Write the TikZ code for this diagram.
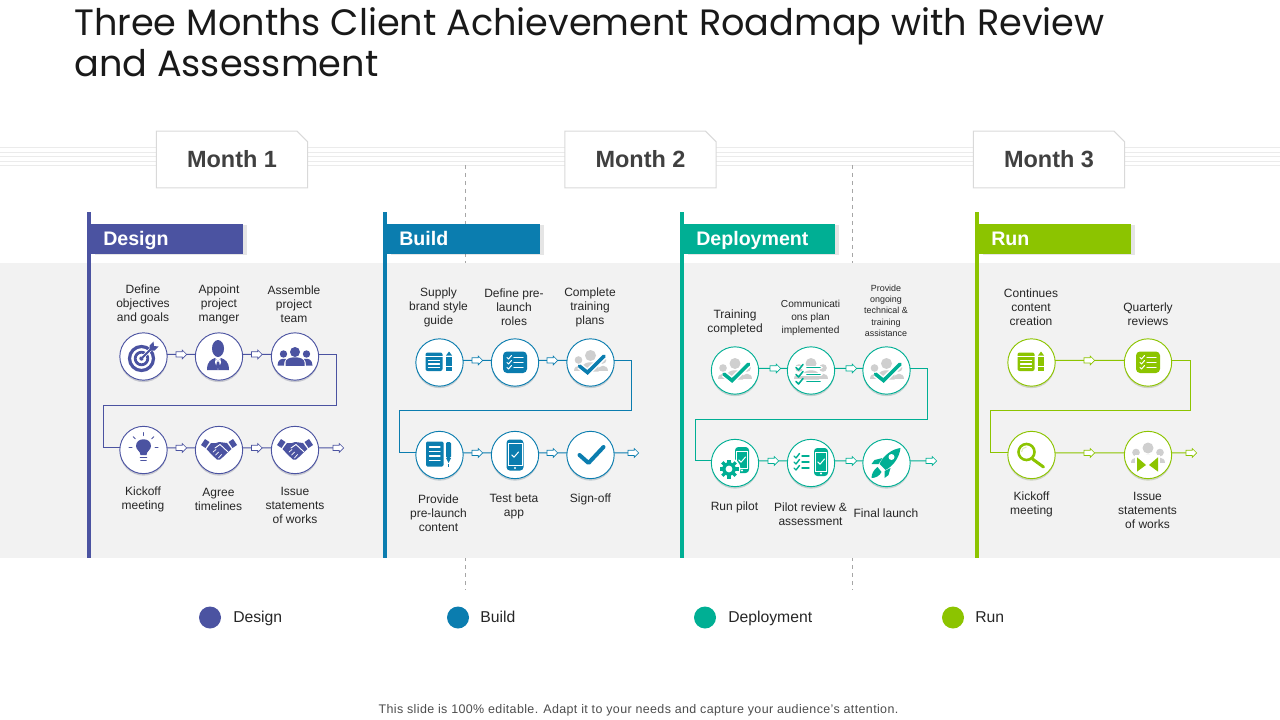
\documentclass[tikz,border=0pt]{standalone}
\usepackage{fontspec}
\setmainfont{Liberation Sans}
\newfontfamily\titlefont{Poppins}
\usetikzlibrary{shapes.arrows,shapes.misc,shadows}
\definecolor{des}{HTML}{4B53A1}
\definecolor{bld}{HTML}{0B7DAF}
\definecolor{dep}{HTML}{00AF94}
\definecolor{rnc}{HTML}{8CC400}
\definecolor{band}{HTML}{F2F2F2}
\definecolor{grp}{HTML}{CFCFCF}
\definecolor{txt}{HTML}{262626}
\tikzset{
  stage/.style={circle,draw=#1,fill=white,line width=.7pt,minimum size=35.5pt,inner sep=0pt,outer sep=0pt,
     general shadow={shadow xshift=0pt,shadow yshift=-1.5pt,fill=#1!45!black,opacity=.2}},
  hollow/.style={single arrow,draw=#1,fill=white,line width=.5pt,minimum height=8pt,
     single arrow head extend=1.3pt,single arrow head indent=0pt,inner sep=1.7pt,outer sep=0pt},
  con/.style={draw=#1,line width=.7pt},
  lab/.style={align=center,text=txt,inner sep=0pt,font=\fontsize{9}{10.5}\selectfont},
  labm/.style={align=center,text=txt,inner sep=0pt,font=\fontsize{7.6}{9.8}\selectfont},
  labs/.style={align=center,text=txt,inner sep=0pt,font=\fontsize{6.7}{8.5}\selectfont},
  monthbox/.style={chamfered rectangle,chamfered rectangle corners=north east,chamfered rectangle xsep=4pt,
     chamfered rectangle ysep=4pt,draw=black!15,fill=white,line width=.75pt,minimum width=113.5pt,minimum height=42.5pt,
     inner sep=0pt,text=black!75,font=\fontsize{17.6}{20}\selectfont\bfseries},
  hdr/.style={fill=#1,text=white,font=\fontsize{14.7}{17}\selectfont\bfseries,anchor=west,minimum height=22.5pt,inner ysep=0pt,
     inner xsep=9pt,align=left,text height=12.5pt,text depth=2pt,
     general shadow={shadow xshift=2.5pt,shadow yshift=-1pt,fill=black,opacity=.1}},
  legdot/.style={circle,fill=#1,minimum size=16.5pt,inner sep=0pt},
  legtxt/.style={anchor=west,text=txt,inner sep=0pt,text height=9.4pt,text depth=1.8pt,font=\fontsize{11.8}{14}\selectfont},
  icl/.style={line width=#1*.75pt,draw=ic,line cap=round,line join=round},
  wl/.style={line width=#1*.75pt,draw=white,line cap=round,line join=round},
}
\newcommand\iconat[3]{\begin{scope}[shift={(#1.center)}]\colorlet{ic}{#2}#3\end{scope}}
\newcommand\icPeople[1]{%
  \fill[#1] (0,-7) circle (5.5) (-12,-2.5) circle (3.8) (12,-2.5) circle (3.8);
  \fill[#1] (-8,9) -- (-8,5) .. controls (-8,-2) and (8,-2) .. (8,5) -- (8,9) -- cycle;
  \fill[#1] (-17,8) .. controls (-17,1) and (-7,1) .. (-7,8) -- cycle;
  \fill[#1] (17,8) .. controls (17,1) and (7,1) .. (7,8) -- cycle;}
\newcommand\icTarget{%
  \draw[icl=3.2] (-2,2) circle (12);
  \draw[icl=2.8] (-2,2) circle (6.3);
  \fill[ic] (-2,2) circle (2.2);
  \draw[wl=3.5] (-1,1) -- (8,-8);
  \draw[icl=1.8] (-2,2) -- (9,-9);
  \fill[ic] (6,-6) -- (6,-11) -- (10,-15) -- (10.5,-10.5) -- (15,-10) -- (11,-6) -- cycle;}
\newcommand\icPerson{%
  \fill[ic] (-1,-8) ellipse (6 and 8.5);
  \fill[ic] (-12,13.5) .. controls (-12,5) and (-8,3) .. (-4,1.5) -- (-1,5) -- (2,1.5) .. controls (6,3) and (10,5) .. (10,13.5) -- cycle;
  \fill[white] (-3.4,2.5) -- (-1,5) -- (1.4,2.5) -- (2,6) -- (-1,13.5) -- (-4,6) -- cycle;
  \fill[ic] (-2,5) -- (0,5) -- (1,10) -- (-1,13) -- (-3,10) -- cycle;}
\newcommand\icGroup{%
  \fill[ic] (0,-4.5) circle (5) (-11.5,-2.5) circle (3.7) (11.5,-2.5) circle (3.7);
  \fill[ic] (-9.5,9.3) -- (-9.5,6) .. controls (-9.5,-1) and (9.5,-1) .. (9.5,6) -- (9.5,9.3) -- cycle;
  \fill[ic] (-17.5,9) .. controls (-17.5,3) and (-13,1.5) .. (-9,2.5) .. controls (-10.5,4) and (-11,6) .. (-11,9) -- cycle;
  \fill[ic] (17.5,9) .. controls (17.5,3) and (13,1.5) .. (9,2.5) .. controls (10.5,4) and (11,6) .. (11,9) -- cycle;}
\newcommand\icBulb{%
  \fill[ic] (-3,5) .. controls (-3,1) and (-7.5,0) .. (-7.5,-4) .. controls (-7.5,-13) and (7.5,-13) .. (7.5,-4) .. controls (7.5,0) and (3,1) .. (3,5) -- cycle;
  \draw[icl=1.7] (-3,7.5) -- (3,7.5) (-2.5,10.5) -- (2.5,10.5);
  \foreach \a in {180,225,270,315,0} \draw[icl=1] (\a-0:11.5) ++(0,-3) -- ++(\a:3);}
\newcommand\icShake{%
  \fill[ic] (-18,-5) -- (-14,-11) -- (-9.5,-8) -- (-13.5,-2) -- cycle;
  \fill[ic] (18,-5) -- (14,-11) -- (9.5,-8) -- (13.5,-2) -- cycle;
  \fill[ic] (-12.5,-1) -- (-8,-7) -- (-3,-7) -- (0,-8) -- (4,-7.5) -- (8,-7) -- (12.5,-1) -- (8,3) -- (4,7) -- (1,9.5) -- (-2,9.5) -- (-7,5) -- cycle;
  \draw[wl=.9] (-4,-2) -- (1,-5.5) -- (8.5,1.5);
  \draw[wl=.7] (-6,2) -- (-3,-0.5) (-3.5,5) -- (-.5,2) (-.5,8) -- (2.5,4.5);}
\newcommand\icBook{%
  \fill[ic,rounded corners=1.5] (-14,-10) rectangle (3,8.5);
  \draw[wl=1.2] (-14,-6) -- (3,-6);
  \draw[wl=1.1] (-11,-2) -- (0,-2) (-11,1.5) -- (0,1.5) (-11,5) -- (0,5);
  \fill[ic] (6.5,-7) -- (9.5,-11) -- (12.5,-7) -- cycle;
  \fill[ic] (6.5,-6) rectangle (12.5,3);
  \fill[ic] (6.5,4.5) rectangle (12.5,8.5);}
\newcommand\icList{%
  \fill[ic,rounded corners=3] (-12,-11) rectangle (12,10.5);
  \foreach \y in {-5,0,5}{
    \draw[wl=1] (-8,\y) -- (-6.5,\y+1.5) -- (-3.5,\y-2);
    \draw[wl=1.1] (-1,\y) -- (8,\y);}}
\newcommand\icCheckGroup{\icPeople{grp}%
  \draw[wl=6.5,line cap=butt] (-11,3.6) -- (-3,10) -- (13.5,-6.3);
  \draw[icl=3.6,line join=miter] (-11,3.6) -- (-3,10) -- (13.5,-6.3);}
\newcommand\icCheck{\draw[icl=4] (-11,0) -- (-2,8) -- (13,-8);}
\newcommand\icPad{%
  \fill[ic,rounded corners=1] (-13.5,-13.5) rectangle (4,11.5);
  \foreach \y in {-8,-3.5,1,5.5} \draw[wl=1.1] (-10,\y) -- (0.5,\y);
  \fill[ic,rounded corners=1] (6.5,-13) rectangle (11.5,3);
  \fill[ic] (6.5,3) -- (11.5,3) -- (9,8) -- cycle;
  \fill[ic] (8.5,9) rectangle (9.5,11.5);}
\newcommand\icPhone[4]{% cx cy halfw halfh
  \fill[ic,rounded corners=2.5] (#1-#3,#2-#4) rectangle (#1+#3,#2+#4);
  \draw[white,line width=.45pt] (#1-#3+1.7,#2-#4+4) rectangle (#1+#3-1.7,#2+#4-5);
  \draw[wl=1] (#1-3.2,#2) -- (#1-1,#2+2.2) -- (#1+3.5,#2-3);
  \fill[white] (#1,#2+#4-2.5) circle (1.1);}
\newcommand\icPeopleList{\icPeople{grp}%
  \foreach \y in {-3,4,11}{
    \draw[wl=3.6] (-16,\y) -- (10,\y);
    \draw[icl=1.6] (-15,\y) -- (-12.5,\y+2.5) -- (-8,\y-3);
    \draw[icl=1.8] (-4,\y) -- (9,\y);}}
\newcommand\icGearPhone{%
  \icPhone{7}{-3}{7}{13}
  \begin{scope}[shift={(-6,6)}]
    \fill[white] (0,0) circle (11.5);
    \foreach \a in {0,45,...,315} \draw[ic,line width=2.4pt] (\a:4) -- (\a:9.5);
    \fill[ic] (0,0) circle (6.8);
    \fill[white] (0,0) circle (3.4);
  \end{scope}}
\newcommand\icListPhone{%
  \icPhone{10}{-1}{7}{14}
  \foreach \y in {-7,-1,5}{
    \draw[icl=1.4] (-17,\y) -- (-15,\y+2) -- (-11.5,\y-2.5);
    \draw[icl=1.4] (-9,\y) -- (-2,\y);}}
\newcommand\icRocket{%
  \fill[ic] (14,-15) .. controls (6,-14) and (-3,-8) .. (-7,1) -- (-1,7) .. controls (7,3) and (13,-6) .. (14,-15) -- cycle;
  \fill[ic] (-4,-5) -- (-12,-3) -- (-15,1) -- (-8,1) -- cycle;
  \fill[ic] (4,5) -- (2,12) -- (-2,15) -- (-2,8) -- cycle;
  \fill[ic] (-9,4) .. controls (-13,7) and (-15,11) .. (-15,15) .. controls (-11,15) and (-7,13) .. (-5,9) -- cycle;
  \fill[white] (5,-6) circle (3);}
\newcommand\icLens{%
  \draw[icl=2.6] (-5,-3) circle (8);
  \draw[white!70!ic,line width=.8pt] (-10,-3) arc (180:270:5);
  \draw[icl=3] (1,4) -- (12,12);}
\newcommand\icPeopleBow{\icPeople{grp}%
  \fill[white] (-13,0) rectangle (12,18);
  \fill[ic] (-11,2.3) -- (-11,16.6) -- (-2,10) -- cycle;
  \fill[ic] (10,2.3) -- (10,16.6) -- (1,10) -- cycle;}
\begin{document}
\begin{tikzpicture}[x=.75pt,y=-.75pt]
\useasboundingbox (0,0) rectangle (1280,720);
% stripes and dashes
\foreach \y in {147.5,152,156.5,161,165} \draw[black!8,line width=.7pt] (0,\y) -- (1280,\y);
\coordinate (da) at (465,165); \coordinate (db) at (465,590);
\coordinate (dc) at (852.5,165); \coordinate (dd) at (852.5,590);
\draw[black!35,dashed,line width=.7pt] (da) -- (db);
\draw[black!35,dashed,line width=.7pt] (dc) -- (dd);
\fill[band] (0,263) rectangle (1280,558);
% title
\node[anchor=north west,inner sep=0pt,align=left,text=black!90,font=\titlefont\fontsize{27.5}{30.7}\selectfont] (title) at (74,7) {Three Months Client Achievement Roadmap with Review\\and Assessment};
% months
\node[monthbox] (m1) at (232,159.5) {Month 1};
\node[monthbox] (m2) at (640.5,159.5) {Month 2};
\node[monthbox] (m3) at (1049,159.5) {Month 3};
% bars and headers
\fill[des] (87,212) rectangle (91,558);
\fill[bld] (383,212) rectangle (387,558);
\fill[dep] (680,212) rectangle (684,558);
\fill[rnc] (975,212) rectangle (979,558);
\node[hdr=des,text width=96pt] (h1) at (91,239) {Design};
\node[hdr=bld,text width=96.7pt] (h2) at (387,239) {Build};
\node[hdr=dep,text width=95.3pt] (h3) at (684,239) {Deployment};
\node[hdr=rnc,text width=96pt] (h4) at (979,239) {Run};
% Design nodes
\node[stage=des] (d1) at (143.5,356.5) {};
\node[stage=des] (d2) at (219,356.5) {};
\node[stage=des] (d3) at (295,356.5) {};
\node[stage=des] (d4) at (143.5,450) {};
\node[stage=des] (d5) at (219,450) {};
\node[stage=des] (d6) at (295,450) {};
\node[hollow=des] (da1) at (180,354.4) {};
\node[hollow=des] (da2) at (255.5,354.4) {};
\node[hollow=des] (da3) at (180,447.9) {};
\node[hollow=des] (da4) at (255.5,447.9) {};
\node[hollow=des] (da5) at (337,447.9) {};
\coordinate (de1) at (336.7,405); \coordinate (de2) at (103,405);
\draw[con=des] (d1.5) -- (da1.tail) (da1.tip) -- (d2.175) (d2.5) -- (da2.tail) (da2.tip) -- (d3.175);
\draw[con=des] (d3.5) -| (de1) -- (de2) |- (d4.175);
\draw[con=des] (d4.5) -- (da3.tail) (da3.tip) -- (d5.175) (d5.5) -- (da4.tail) (da4.tip) -- (d6.175) (d6.5) -- (da5.tail);
\iconat{d1}{des}{\icTarget}
\iconat{d2}{des}{\icPerson}
\iconat{d3}{des}{\icGroup}
\iconat{d4}{des}{\icBulb}
\iconat{d5}{des}{\icShake}
\iconat{d6}{des}{\icShake}
\node[lab] (dl1) at (143,304.5) {Define\\objectives\\and goals};
\node[lab] (dl2) at (219,304.5) {Appoint\\project\\manger};
\node[lab] (dl3) at (294,304.5) {Assemble\\project\\team};
\node[lab] (dl4) at (143,499.5) {Kickoff\\meeting};
\node[lab] (dl5) at (218.5,499) {Agree\\timelines};
\node[lab] (dl6) at (295,505) {Issue\\statements\\of works};
% Build nodes
\node[stage=bld] (b1) at (439.5,362.5) {};
\node[stage=bld] (b2) at (515,362.5) {};
\node[stage=bld] (b3) at (590.5,362.5) {};
\node[stage=bld] (b4) at (439.5,455) {};
\node[stage=bld] (b5) at (515,455) {};
\node[stage=bld] (b6) at (590.5,455) {};
\node[hollow=bld] (ba1) at (476,360.4) {};
\node[hollow=bld] (ba2) at (551,360.4) {};
\node[hollow=bld] (ba3) at (476,452.9) {};
\node[hollow=bld] (ba4) at (551,452.9) {};
\node[hollow=bld] (ba5) at (632,452.9) {};
\coordinate (be1) at (631.7,410); \coordinate (be2) at (399,410);
\draw[con=bld] (b1.5) -- (ba1.tail) (ba1.tip) -- (b2.175) (b2.5) -- (ba2.tail) (ba2.tip) -- (b3.175);
\draw[con=bld] (b3.5) -| (be1) -- (be2) |- (b4.175);
\draw[con=bld] (b4.5) -- (ba3.tail) (ba3.tip) -- (b5.175) (b5.5) -- (ba4.tail) (ba4.tip) -- (b6.175) (b6.5) -- (ba5.tail);
\iconat{b1}{bld}{\icBook}
\iconat{b2}{bld}{\icList}
\iconat{b3}{bld}{\icCheckGroup}
\iconat{b4}{bld}{\icPad}
\iconat{b5}{bld}{\icPhone{0}{0}{8.5}{15.5}}
\iconat{b6}{bld}{\icCheck}
\node[lab] (bl1) at (438.5,307.5) {Supply\\brand style\\guide};
\node[lab] (bl2) at (514,307) {Define pre-\\launch\\roles};
\node[lab] (bl3) at (590,307) {Complete\\training\\plans};
\node[lab] (bl4) at (438.5,513) {Provide\\pre-launch\\content};
\node[lab] (bl5) at (514,506) {Test beta\\app};
\node[lab] (bl6) at (590.5,499.5) {Sign-off};
% Deployment nodes
\node[stage=dep] (p1) at (735,370.5) {};
\node[stage=dep] (p2) at (811,370.5) {};
\node[stage=dep] (p3) at (886.5,370.5) {};
\node[stage=dep] (p4) at (735,463) {};
\node[stage=dep] (p5) at (811,463) {};
\node[stage=dep] (p6) at (886.5,463) {};
\node[hollow=dep] (pa1) at (774,368.4) {};
\node[hollow=dep] (pa2) at (850,368.4) {};
\node[hollow=dep] (pa3) at (772,460.9) {};
\node[hollow=dep] (pa4) at (850,460.9) {};
\node[hollow=dep] (pa5) at (930,460.9) {};
\coordinate (pe1) at (927.7,419); \coordinate (pe2) at (695,419);
\draw[con=dep] (p1.5) -- (pa1.tail) (pa1.tip) -- (p2.175) (p2.5) -- (pa2.tail) (pa2.tip) -- (p3.175);
\draw[con=dep] (p3.5) -| (pe1) -- (pe2) |- (p4.175);
\draw[con=dep] (p4.5) -- (pa3.tail) (pa3.tip) -- (p5.175) (p5.5) -- (pa4.tail) (pa4.tip) -- (p6.175) (p6.5) -- (pa5.tail);
\iconat{p1}{dep}{\icCheckGroup}
\iconat{p2}{dep}{\icPeopleList}
\iconat{p3}{dep}{\icCheckGroup}
\iconat{p4}{dep}{\icGearPhone}
\iconat{p5}{dep}{\icListPhone}
\iconat{p6}{dep}{\icRocket}
\node[lab] (pl1) at (735,322) {Training\\completed};
\node[labm] (pl2) at (810.5,317.5) {Communicati\\ons plan\\implemented};
\node[labs] (pl3) at (886,310.5) {Provide\\ongoing\\technical \&\\training\\assistance};
\node[lab] (pl4) at (734.5,507) {Run pilot};
\node[lab] (pl5) at (810.5,514) {Pilot review \&\\assessment};
\node[lab] (pl6) at (886,513.5) {Final launch};
% Run nodes
\node[stage=rnc] (r1) at (1031.5,362.5) {};
\node[stage=rnc] (r2) at (1148,362.5) {};
\node[stage=rnc] (r3) at (1031.5,455) {};
\node[stage=rnc] (r4) at (1148,455) {};
\node[hollow=rnc] (ra1) at (1088,360.4) {};
\node[hollow=rnc] (ra2) at (1088,452.9) {};
\node[hollow=rnc] (ra3) at (1190,452.9) {};
\coordinate (re1) at (1190,410); \coordinate (re2) at (990,410);
\draw[con=rnc] (r1.5) -- (ra1.tail) (ra1.tip) -- (r2.175);
\draw[con=rnc] (r2.5) -| (re1) -- (re2) |- (r3.175);
\draw[con=rnc] (r3.5) -- (ra2.tail) (ra2.tip) -- (r4.175) (r4.5) -- (ra3.tail);
\iconat{r1}{rnc}{\icBook}
\iconat{r2}{rnc}{\icList}
\iconat{r3}{rnc}{\icLens}
\iconat{r4}{rnc}{\icPeopleBow}
\node[lab] (rl1) at (1031,307) {Continues\\content\\creation};
\node[lab] (rl2) at (1148,314) {Quarterly\\reviews};
\node[lab] (rl3) at (1031.5,504) {Kickoff\\meeting};
\node[lab] (rl4) at (1147.5,510.5) {Issue\\statements\\of works};
% legend
\node[legdot=des] (g1) at (210,617.5) {};
\node[legdot=bld] (g2) at (458,617.5) {};
\node[legdot=dep] (g3) at (705,617.5) {};
\node[legdot=rnc] (g4) at (953,617.5) {};
\node[legtxt] (gt1) at (233,617.5) {Design};
\node[legtxt] (gt2) at (480,617.5) {Build};
\node[legtxt] (gt3) at (728,617.5) {Deployment};
\node[legtxt] (gt4) at (975,617.5) {Run};
% footer
\node[inner sep=0pt,text=black!70,font=\addfontfeature{LetterSpace=3}\fontsize{9.35}{11}\selectfont] (foot) at (638.5,710) {This slide is 100\% editable. Adapt it to your needs and capture your audience's attention.};
\end{tikzpicture}
\end{document}
